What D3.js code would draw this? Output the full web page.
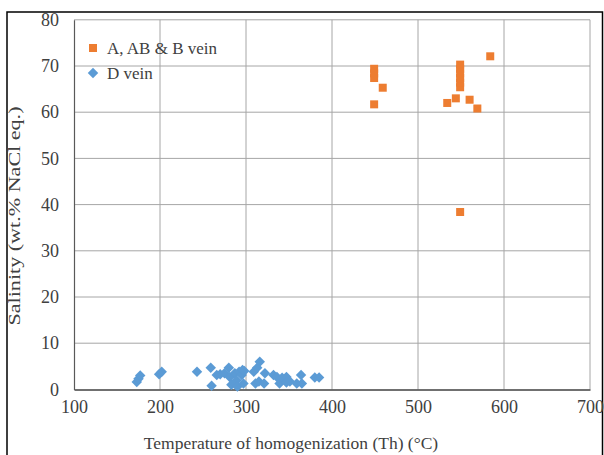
<!DOCTYPE html>
<html><head><meta charset="utf-8">
<script src="https://cdn.jsdelivr.net/npm/d3@7"></script>
<style>body{margin:0;background:#fff}svg{display:block;font-family:'Liberation Serif','Times New Roman',serif}</style>
</head><body>
<script>
const xTicks = [100,200,300,400,500,600,700];
const yTicks = [0,10,20,30,40,50,60,70,80];
const seriesNames = ["A, AB & B vein","D vein"];
// A, AB & B vein: [Th, salinity]
const abVein = [[449,61.7],[449,67.4],[449,68.4],[449,69.4],[459,65.3],[534,62.0],[544,63.0],[549,38.4],[549,65.4],[549,66.4],[549,67.4],[549,68.4],[549,69.4],[549,70.3],[560,62.7],[569,60.8],[584,72.1]];
// D vein
const dVein = [[173,1.6],[175,2.3],[177,3.0],[199,3.3],[202,3.8],[243,3.8],[259,4.7],[260,0.8],[266,3.1],[270,3.3],[275,3.5],[280,4.7],[281,2.7],[283,1.0],[287,3.5],[289,2.0],[290,0.6],[292,3.8],[295,3.1],[296,4.2],[297,1.3],[298,4.0],[309,3.8],[311,1.3],[313,4.7],[316,6.0],[315,1.7],[322,3.5],[321,1.3],[332,3.1],[336,2.7],[339,1.3],[342,2.5],[347,2.7],[347,1.5],[351,1.7],[359,1.3],[364,3.1],[365,1.3],[380,2.6],[385,2.6]];

const W=604,H=455;
const svg=d3.select("body").append("svg").attr("width",W).attr("height",H);
const font="Liberation Serif";
svg.append("rect").attr("x",7).attr("y",12).attr("width",595.5).attr("height",450)
  .attr("fill","#fff").attr("stroke","#000").attr("stroke-width",1.5);

const x=d3.scaleLinear().domain([100,700]).range([74,590]);
const y=d3.scaleLinear().domain([0,80]).range([389.4,19.8]);

// gridlines
svg.append("g").selectAll("line").data(xTicks.slice(1)).join("line")
  .attr("x1",d=>x(d)).attr("x2",d=>x(d)).attr("y1",y(80)).attr("y2",y(0))
  .attr("stroke","#a6a6a6").attr("stroke-width",1);
svg.append("g").selectAll("line").data(yTicks.slice(1)).join("line")
  .attr("x1",x(100)).attr("x2",x(700)).attr("y1",d=>y(d)).attr("y2",d=>y(d))
  .attr("stroke","#a6a6a6").attr("stroke-width",1);

// axes
const xAxis=svg.append("g").attr("transform",`translate(0,${y(0)})`)
  .call(d3.axisBottom(x).tickValues(xTicks).tickSize(0).tickPadding(11).tickFormat(d3.format("d")))
  .attr("font-family",font).attr("font-size",18);
xAxis.select(".domain").attr("stroke","#404040").attr("stroke-width",1.5);
const yAxis=svg.append("g").attr("transform",`translate(${x(100)},0)`)
  .call(d3.axisLeft(y).tickValues(yTicks).tickSize(0).tickPadding(15).tickFormat(d3.format("d")))
  .attr("font-family",font).attr("font-size",18);
yAxis.select(".domain").attr("stroke","#595959").attr("stroke-width",1.2);
svg.selectAll(".tick text").attr("fill","#404040");

// points
svg.append("g").selectAll("path").data(dVein).join("path")
  .attr("d",d3.symbol(d3.symbolDiamond2,70)())
  .attr("transform",d=>`translate(${x(d[0])},${y(d[1])})`)
  .attr("fill","#5b9bd5");
svg.append("g").selectAll("rect").data(abVein).join("rect")
  .attr("x",d=>x(d[0])-4).attr("y",d=>y(d[1])-4).attr("width",8).attr("height",8)
  .attr("fill","#ed7d31");

// legend
const lg=svg.append("g");
lg.append("rect").attr("x",89).attr("y",44).attr("width",8).attr("height",8).attr("fill","#ed7d31");
lg.append("path").attr("d",d3.symbol(d3.symbolDiamond2,70)()).attr("transform","translate(93,73)").attr("fill","#5b9bd5");
lg.selectAll("text").data(seriesNames).join("text")
  .attr("x",107).attr("y",(d,i)=>54+i*25).text(d=>d)
  .attr("font-family",font).attr("font-size",17).attr("fill","#404040");

// titles
svg.append("text").attr("x",291).attr("y",449).attr("text-anchor","middle")
  .attr("font-family",font).attr("font-size",17.5).attr("fill","#404040")
  .text("Temperature of homogenization (Th) (\u00B0C)");
svg.append("text").attr("transform","translate(20,216) rotate(-90) scale(1.3,1)").attr("text-anchor","middle")
  .attr("font-family",font).attr("font-size",17).attr("fill","#404040")
  .text("Salinity (wt.% NaCl eq.)");
</script>
</body></html>
